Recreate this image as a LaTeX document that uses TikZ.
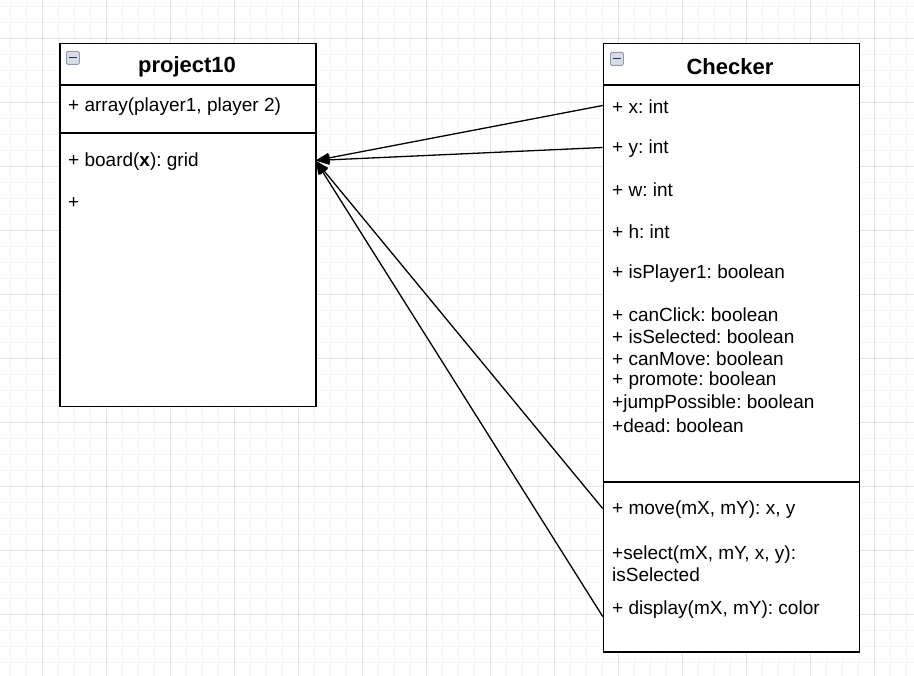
\documentclass[tikz,border=0pt]{standalone}
\usepackage{fontspec}
\setmainfont{Liberation Sans}
\usetikzlibrary{arrows.meta}
\definecolor{gridminor}{HTML}{F5F5F5}
\definecolor{gridmajor}{HTML}{E4E4E4}
\definecolor{iconfill}{HTML}{D5DEE8}
\definecolor{icondraw}{HTML}{8C9AAC}
\tikzset{
  minorline/.style={draw=gridminor, line width=1pt},
  majorline/.style={draw=gridmajor, line width=1pt},
  classbox/.style={draw=black, line width=1.5pt, fill=white, inner sep=0pt, anchor=north west},
  divider/.style={draw=black, line width=1.5pt},
  titletext/.style={font=\fontsize{22}{26}\selectfont\bfseries, anchor=center, inner sep=0pt},
  item/.style={font=\fontsize{19}{22.5}\selectfont, anchor=west, inner sep=0pt, align=left},
  conn/.style={draw=black, line width=1.3pt, -{Triangle[length=14pt,width=10pt]}},
  iconbox/.style={draw=icondraw, fill=iconfill, rounded corners=1.5pt, line width=0.8pt, minimum size=13pt, inner sep=0pt, anchor=north west}
}
\frenchspacing
\begin{document}
\begin{tikzpicture}[x=1pt,y=-1pt]
\useasboundingbox (0,0) rectangle (914,676);
\fill[white] (0,0) rectangle (914,676);
% grid
\foreach \i in {0,...,56} { \draw[minorline] ({10.7+16*\i},0) -- ({10.7+16*\i},676); }
\foreach \i in {0,...,42} { \draw[minorline] (0,{6.3+16*\i}) -- (914,{6.3+16*\i}); }
\foreach \i in {0,...,14} { \draw[majorline] ({42.7+64*\i},0) -- ({42.7+64*\i},676); }
\foreach \i in {0,...,10} { \draw[majorline] (0,{38.3+64*\i}) -- (914,{38.3+64*\i}); }

% project10 class
\node[classbox, minimum width=256pt, minimum height=363pt] (p10) at (59,43) {};
\draw[divider] (59,85) -- (315,85);
\draw[divider] (59,133) -- (315,133);
\node[iconbox] (p10icon) at (66,51) {};
\draw[black!80, line width=1.2pt] (68.5,57.5) -- (76.5,57.5);
\node[titletext] (p10title) at (187,66.5) {project10};
\node[item] (pa) at (68,107) {+ array(player1, player 2)};
\node[item] (pb) at (68,161.5) {+ board(\textbf{x}): grid};
\node[item] (pc) at (68,203) {+};

% Checker class
\node[classbox, minimum width=256pt, minimum height=608pt] (chk) at (602.7,43) {};
\draw[divider] (602.7,85) -- (858.7,85);
\draw[divider] (602.7,482) -- (858.7,482);
\node[iconbox] (chkicon) at (610,52) {};
\draw[black!80, line width=1.2pt] (612.5,58.5) -- (620.5,58.5);
\node[titletext] (chktitle) at (730,66.5) {Checker};
\node[item] (cx) at (612,107) {+ x: int};
\node[item] (cy) at (612,148.5) {+ y: int};
\node[item] (cw) at (612,190) {+ w: int};
\node[item] (ch) at (612,232) {+ h: int};
\node[item] (cp) at (612,273.5) {+ isPlayer1: boolean};
\node[item] (cc) at (612,315) {+ canClick: boolean};
\node[item] (cs) at (612,337) {+ isSelected: boolean};
\node[item] (cm) at (612,359) {+ canMove: boolean};
\node[item] (cr) at (612,381) {+ promote: boolean};
\node[item] (cj) at (612,404) {+jumpPossible: boolean};
\node[item] (cd) at (612,426) {+dead: boolean};
\node[item] (mmove) at (612,510) {+ move(mX, mY): x, y};
\node[item] (msel) at (612,563.5) {+select(mX, mY, x, y):\\isSelected};
\node[item] (mdisp) at (612,610) {+ display(mX, mY): color};

% connectors
\coordinate (tip) at (315.5,160.5);
\coordinate (sx) at (chk.west |- 0,105.5);
\coordinate (sy) at (chk.west |- 0,147.5);
\coordinate (smove) at (chk.west |- 0,508.5);
\coordinate (sdisp) at (chk.west |- 0,616.5);
\draw[conn] (sx) -- (tip);
\draw[conn] (sy) -- (tip);
\draw[conn] (smove) -- (tip);
\draw[conn] (sdisp) -- (tip);
\end{tikzpicture}
\end{document}
